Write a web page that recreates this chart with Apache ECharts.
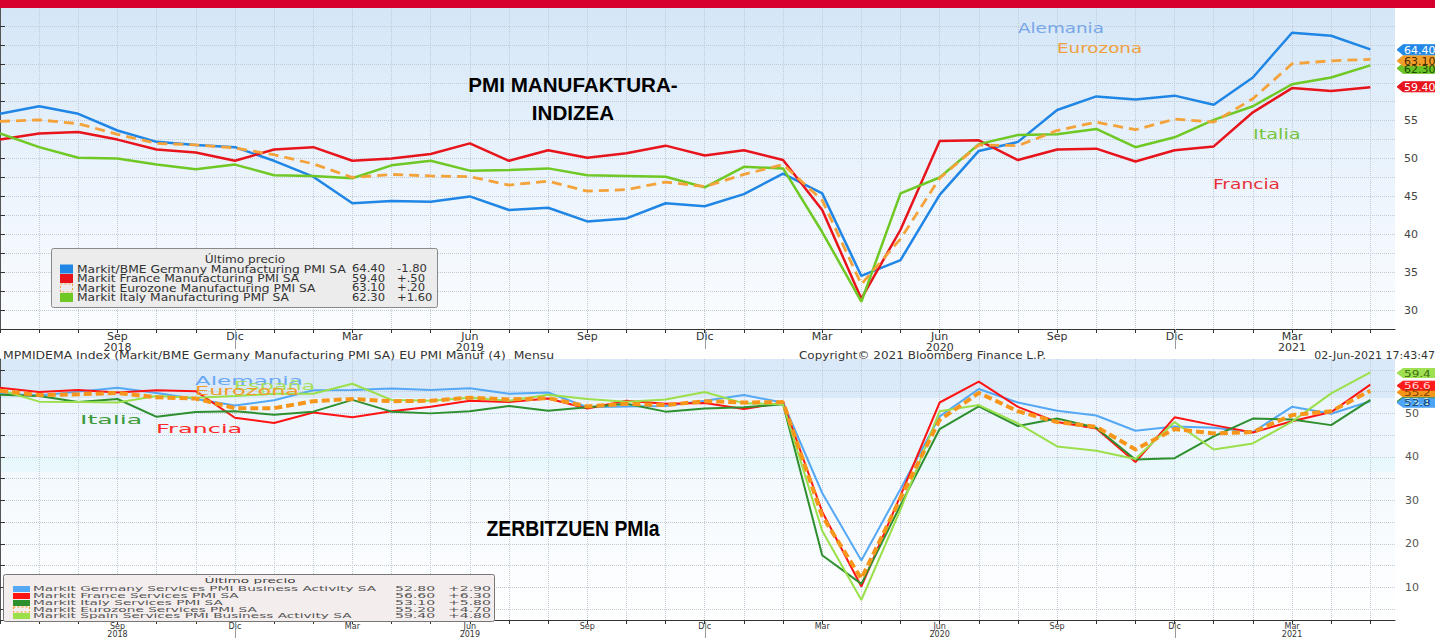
<!DOCTYPE html>
<html><head><meta charset="utf-8">
<script src="https://cdn.jsdelivr.net/npm/echarts@6/dist/echarts.min.js"></script>
<style>html,body{margin:0;padding:0;background:#fff;overflow:hidden}#c{width:1435px;height:638px}</style>
</head><body><div id="c"></div><script>
// ---------- data ----------
const months = ['Jun 2018','Jul 2018','Ago 2018','Sep 2018','Oct 2018','Nov 2018','Dic 2018',
 'Ene 2019','Feb 2019','Mar 2019','Abr 2019','May 2019','Jun 2019','Jul 2019','Ago 2019','Sep 2019','Oct 2019','Nov 2019','Dic 2019',
 'Ene 2020','Feb 2020','Mar 2020','Abr 2020','May 2020','Jun 2020','Jul 2020','Ago 2020','Sep 2020','Oct 2020','Nov 2020','Dic 2020',
 'Ene 2021','Feb 2021','Mar 2021','Abr 2021','May 2021'];
const xTickIdx  = [3,6,9,12,15,18,21,24,27,30,33];
const xTickText = ['Sep\n2018','Dic','Mar','Jun\n2019','Sep','Dic','Mar','Jun\n2020','Sep','Dic','Mar\n2021'];
const yearMarkIdx = [6,18,30];
const topYLabels = [30,35,40,45,50,55];
const botYLabels = [10,20,30,40,50];

// Manufacturing PMI
const deMfg = [55.9,56.9,55.9,53.7,52.2,51.8,51.5, 49.7,47.6,44.1,44.4,44.3,45.0,43.2,43.5,41.7,42.1,44.1,43.7, 45.3,48.0,45.4,34.5,36.6,45.2,51.0,52.2,56.4,58.2,57.8,58.3, 57.1,60.7,66.6,66.2,64.4];
const frMfg = [52.5,53.3,53.5,52.5,51.2,50.8,49.7, 51.2,51.5,49.7,50.0,50.6,52.0,49.7,51.1,50.1,50.7,51.7,50.4, 51.1,49.8,43.2,31.5,40.6,52.3,52.4,49.8,51.2,51.3,49.6,51.1, 51.6,56.1,59.3,58.9,59.4];
const euMfg = [54.9,55.1,54.6,53.2,52.0,51.8,51.4, 50.5,49.3,47.5,47.9,47.7,47.6,46.5,47.0,45.7,45.9,46.9,46.3, 47.9,49.2,44.5,33.4,39.4,47.4,51.8,51.7,53.7,54.8,53.8,55.2, 54.8,57.9,62.5,62.9,63.1];
const itMfg = [53.3,51.5,50.1,50.0,49.2,48.6,49.2, 47.8,47.7,47.4,49.1,49.7,48.4,48.5,48.7,47.8,47.7,47.6,46.2, 48.9,48.7,40.3,31.1,45.4,47.5,51.9,53.1,53.2,53.9,51.5,52.8, 55.1,56.9,59.8,60.7,62.3];
// Services PMI
const deSrv = [54.5,54.1,55.0,55.9,54.7,53.3,51.8, 53.0,55.3,55.4,55.7,55.4,55.8,54.5,54.8,51.4,51.6,51.7,52.9, 54.2,52.5,31.7,16.2,32.6,49.3,55.6,52.5,50.6,49.5,46.0,47.0, 46.7,45.7,51.5,49.9,52.8];
const frSrv = [55.9,54.9,55.4,54.8,55.3,55.1,49.0, 47.8,50.2,49.1,50.5,51.5,52.9,52.6,53.4,51.1,52.9,52.2,52.4, 51.0,52.5,27.4,10.2,31.1,52.5,57.3,51.5,48.0,46.5,38.8,49.1, 47.3,45.6,48.2,50.3,56.6];
const itSrv = [54.3,54.0,52.6,53.3,49.2,50.3,50.5, 49.7,50.4,53.1,50.4,50.0,50.5,51.7,50.6,51.4,52.2,50.4,51.1, 51.4,52.1,17.4,10.8,28.9,46.4,51.6,47.1,48.8,46.7,39.4,39.7, 44.7,48.8,48.6,47.3,53.1];
const euSrv = [55.2,54.2,54.4,54.7,53.7,53.4,51.2, 51.2,52.8,53.3,52.8,52.9,53.6,53.2,53.5,51.6,52.2,51.9,52.8, 52.5,52.6,26.4,12.0,30.5,48.5,54.7,50.5,48.0,46.9,41.7,46.4, 45.4,45.7,49.6,50.5,55.2];
const esSrv = [55.4,52.7,52.6,52.5,54.0,53.6,54.0, 54.5,54.5,56.8,53.1,52.9,53.6,52.9,54.3,53.3,52.7,53.2,54.9, 52.3,52.1,23.0,7.1,27.9,50.5,51.9,47.7,42.4,41.4,39.5,48.0, 41.7,43.1,48.1,54.6,59.4];

const mfgNames = ['Markit/BME Germany Manufacturing PMI SA','Markit France Manufacturing PMI SA','Markit Eurozone Manufacturing PMI SA','Markit Italy Manufacturing PMI  SA'];
const srvNames = ['Markit Germany Services PMI Business Activity SA','Markit France Services PMI SA','Markit Italy Services PMI SA','Markit Eurozone Services PMI SA','Markit Spain Services PMI Business Activity SA'];

// ---------- styles ----------
const FONT = 'DejaVu Sans';
const C = {
  deM:'#1f86e6', frM:'#e8141c', euM:'#f4a23a', itM:'#6fc824',
  deS:'#55a8f4', frS:'#ff1414', itS:'#2e8f2e', euS:'#f7961a', esS:'#9bdf4a'
};
const X_MAX = 35.63;
const range = (a,b,s)=>{const r=[];for(let v=a;v<=b+1e-9;v+=s)r.push(+v.toFixed(2));return r;};
const pairs = arr => arr.map((v,i)=>[i,v]);
function xLabel(v){
  const r = Math.round(v);
  if (Math.abs(v-r) > 1e-6) return '';
  const k = xTickIdx.indexOf(r);
  return k < 0 ? '' : xTickText[k];
}
function mkX(gi, fs, lh){
  return {type:'value', gridIndex:gi, min:0, max:X_MAX, interval:3,
    axisLine:{show:true, onZero:false, lineStyle:{color:'#333', width:1}},
    axisTick:{show:true, customValues:range(0,35,1), length:4, lineStyle:{color:'#333'}},
    axisLabel:{customValues:xTickIdx, formatter:xLabel, fontSize:fs, lineHeight:lh, color:'#333', margin:2, fontFamily:FONT, hideOverlap:false},
    splitLine:{show:true, lineStyle:{type:'dotted', color:'#c3ccd6'}}};
}
function line(name, data, gi, color, w, dash, z){
  return {type:'line', name, xAxisIndex:gi, yAxisIndex:gi, data:pairs(data), symbol:'none', showSymbol:false,
    silent:true, z, lineStyle:{color, width:w, type:dash||'solid'}, itemStyle:{color}};
}
const topBg = new echarts.graphic.LinearGradient(0,0,0,1,[
  {offset:0,color:'#d4e6f7'},{offset:0.5,color:'#eaf3fc'},{offset:1,color:'#fbfdff'}]);
const botBg = new echarts.graphic.LinearGradient(0,0,0,1,[
  {offset:0,color:'#d9e9f9'},{offset:0.148,color:'#dbeaf9'},
  {offset:0.149,color:'#ecf5fd'},{offset:0.376,color:'#eef6fd'},
  {offset:0.377,color:'#e7f8fb'},{offset:0.433,color:'#e9f8fc'},
  {offset:0.434,color:'#f3f9fe'},{offset:1,color:'#ffffff'}]);

const chart = echarts.init(document.getElementById('c'), null, {renderer:'svg'});
chart.setOption({
  animation:false,
  backgroundColor:'#ffffff',
  grid:[
    {left:0, right:40, top:7, height:322, show:true, borderWidth:0, backgroundColor:topBg},
    {left:0, right:40, top:359, height:263, show:true, borderWidth:0, backgroundColor:botBg}
  ],
  xAxis:[mkX(0,11,11), mkX(1,8,8)],
  yAxis:[
    {type:'value', gridIndex:0, position:'right', min:27.5, max:70, splitNumber:8,
     axisLine:{show:true, lineStyle:{color:'#555'}},
     axisTick:{show:true, customValues:range(30,70,2.5), length:5, lineStyle:{color:'#333'}},
     axisLabel:{customValues:topYLabels, fontSize:11, color:'#444', margin:9, fontFamily:FONT},
     splitLine:{show:true, lineStyle:{type:'dotted', color:'#c3ccd6'}}},
    {type:'value', gridIndex:1, position:'right', min:2.5, max:62.5, splitNumber:6,
     axisLine:{show:true, lineStyle:{color:'#555'}},
     axisTick:{show:true, customValues:range(5,60,5), length:5, lineStyle:{color:'#333'}},
     axisLabel:{customValues:botYLabels, fontSize:11, color:'#555', margin:10, fontFamily:FONT},
     splitLine:{show:true, lineStyle:{type:'dotted', color:'#c3ccd6'}}}
  ],
  series:[
    line(mfgNames[0], deMfg, 0, C.deM, 2.5, null, 3),
    line(mfgNames[1], frMfg, 0, C.frM, 2.5, null, 4),
    line(mfgNames[3], itMfg, 0, C.itM, 2.5, null, 5),
    line(mfgNames[2], euMfg, 0, C.euM, 2.8, [10,6], 6),
    line(srvNames[0], deSrv, 1, C.deS, 2, null, 3),
    line(srvNames[1], frSrv, 1, C.frS, 2, null, 4),
    line(srvNames[2], itSrv, 1, C.itS, 2, null, 5),
    line(srvNames[4], esSrv, 1, C.esS, 2, null, 6),
    line(srvNames[3], euSrv, 1, C.euS, 4, [8,4], 7)
  ]
});

// ---------- overlays (text, legends, flags) ----------
function fmtChg(d){ const a=Math.abs(d); let s=a.toFixed(2); if(a<1) s=s.slice(1); return (d<0?'-':'+')+s; }
function txt(t, x, y, o){
  o = o||{};
  return {type:'text', x, y, scaleX:o.sx||1, scaleY:o.sy||1, z:100, silent:true,
    style:{text:t, x:0, y:0, fill:o.color||'#333', fontSize:o.fs||11, fontFamily:o.ff||FONT,
      fontWeight:o.fw||'normal', textAlign:o.align||'left', textVerticalAlign:'middle'}};
}
const G = [];
// red header bar
G.push({type:'rect', z:100, silent:true, shape:{x:0,y:0,width:1435,height:8}, style:{fill:'#d5002c'}});
// titles
G.push(txt('PMI MANUFAKTURA-', 573, 85, {fs:20, fw:'bold', ff:'Liberation Sans', color:'#000', align:'center', sx:1.03}));
G.push(txt('INDIZEA', 573, 113, {fs:20, fw:'bold', ff:'Liberation Sans', color:'#000', align:'center', sx:1.03}));
G.push(txt('ZERBITZUEN PMIa', 573, 528, {fs:22, fw:'bold', ff:'Liberation Sans', color:'#000', align:'center', sx:0.88}));
// top annotations
G.push(txt('Alemania', 1018, 28, {fs:14, color:'#78a6e8', sx:1.31}));
G.push(txt('Eurozona', 1057, 48, {fs:14, color:'#f0a040', sx:1.31}));
G.push(txt('Italia', 1253, 134, {fs:14, color:'#74c43e', sx:1.38}));
G.push(txt('Francia', 1213, 184, {fs:14, color:'#e8303a', sx:1.33}));
// bottom annotations (wide, short lettering)
G.push(txt('Alemania', 195, 381, {fs:12.3, color:'#6aa9f2', sx:1.87}));
G.push(txt('España', 234, 386, {fs:12.3, color:'#a6e05a', sx:1.81}));
G.push(txt('Eurozona', 195, 391, {fs:12.3, color:'#f39a2a', sx:1.82}));
G.push(txt('Italia', 80, 420, {fs:12.3, color:'#3d9a3d', sx:2.05}));
G.push(txt('Francia', 156, 428, {fs:12.3, color:'#ff2a2a', sx:1.95}));
// footer
G.push(txt('MPMIDEMA Index (Markit/BME Germany Manufacturing PMI SA) EU PMI Manuf (4)  Mensu', 3, 355, {fs:11, sx:1.13}));
G.push(txt('Copyright\u00a9 2021 Bloomberg Finance L.P.', 799, 355, {fs:11, sx:1.09}));
G.push(txt('02-Jun-2021 17:43:47', 1435, 355, {fs:11, align:'right'}));

// top legend
const mfgSeries = [deMfg, frMfg, euMfg, itMfg];
const mfgCols = [C.deM, C.frM, C.euM, C.itM];
G.push({type:'rect', z:99, silent:true, shape:{x:51.5,y:248.5,width:386,height:59,r:2}, style:{fill:'#ececec', stroke:'#8a8a8a', lineWidth:1}});
G.push(txt('\u00daltimo precio', 245, 259, {fs:11, align:'center', sx:1.1}));
[269,278.5,288,297.5].forEach((y,i)=>{
  const d = mfgSeries[i], last = d[d.length-1], prev = d[d.length-2];
  if (i===2) G.push({type:'rect', z:100, silent:true, shape:{x:60.5,y:y-4,width:12,height:8}, style:{fill:'none', stroke:mfgCols[i], lineWidth:1, lineDash:[2,2]}});
  else G.push({type:'rect', z:100, silent:true, shape:{x:60,y:y-4.5,width:13,height:9}, style:{fill:mfgCols[i]}});
  G.push(txt(mfgNames[i], 77, y, {fs:11, sx:1.12}));
  G.push(txt(last.toFixed(2), 352, y, {fs:11, sx:1.05}));
  G.push(txt(fmtChg(last-prev), 397, y, {fs:11, sx:1.05}));
});
// bottom legend
const srvSeries = [deSrv, frSrv, itSrv, euSrv, esSrv];
const srvCols = [C.deS, C.frS, C.itS, C.euS, C.esS];
G.push({type:'rect', z:99, silent:true, shape:{x:3.5,y:574.5,width:491,height:47,r:2}, style:{fill:'#f3eded', stroke:'#777', lineWidth:1}});
G.push(txt('\u00daltimo precio', 250, 581, {fs:7.2, align:'center', sx:1.9, color:'#444'}));
[589,596,603,609.5,616].forEach((y,i)=>{
  const d = srvSeries[i], last = d[d.length-1], prev = d[d.length-2];
  if (i===3) G.push({type:'rect', z:100, silent:true, shape:{x:13.5,y:y-2.5,width:16,height:5}, style:{fill:'none', stroke:srvCols[i], lineWidth:1, lineDash:[2,2]}});
  else G.push({type:'rect', z:100, silent:true, shape:{x:13,y:y-3,width:17,height:6}, style:{fill:srvCols[i]}});
  G.push(txt(srvNames[i], 33, y, {fs:7.2, sx:1.9, color:'#555'}));
  G.push(txt(last.toFixed(2), 395, y, {fs:7.2, sx:1.95, color:'#555'}));
  G.push(txt(fmtChg(last-prev), 448, y, {fs:7.2, sx:1.95, color:'#555'}));
});

// year separators under "Dic"
yearMarkIdx.forEach(i=>{
  const x = Math.round(chart.convertToPixel({xAxisIndex:0}, i)) + 0.5;
  G.push({type:'line', z:100, silent:true, shape:{x1:x,y1:329,x2:x,y2:349}, style:{stroke:'#999', lineWidth:1}});
  G.push({type:'line', z:100, silent:true, shape:{x1:x,y1:622,x2:x,y2:638}, style:{stroke:'#999', lineWidth:1}});
});

// value flags on the right axes
function flag(yAxisIndex, value, nudge, fill, tcol, h, fs, sx){
  const y = chart.convertToPixel({yAxisIndex}, value) + nudge;
  const x0 = 1397, hh = h/2;
  G.push({type:'polygon', z:101, silent:true, shape:{points:[[x0,y],[x0+6,y-hh],[1440,y-hh],[1440,y+hh],[x0+6,y+hh]]}, style:{fill, stroke:fill}});
  const t = txt(value.toFixed(yAxisIndex===0?2:1), 1404, y+0.5, {fs, color:tcol, sx});
  t.z = 102; G.push(t);
}
flag(0, itMfg[35], 3, '#6cc427', '#1f4a00', 10, 10, 1.1);
flag(0, euMfg[35], 1.5, '#f29e2a', '#4a2a00', 10, 10, 1.1);
flag(0, deMfg[35], 0.3, '#2389e8', '#ffffff', 10, 10, 1.1);
flag(0, frMfg[35], -0.5, '#e8141c', '#ffffff', 10, 10, 1.1);
flag(1, itSrv[35], 1.5, '#2e8f2e', '#d8f0d8', 9, 8.4, 1.43);
flag(1, euSrv[35], 1.5, '#f5961a', '#7a4000', 9, 8.4, 1.43);
flag(1, frSrv[35], 1, '#ff1a1a', '#ffd6d6', 9, 8.4, 1.43);
flag(1, deSrv[35], 1.5, '#4da3f5', '#0c3e78', 9, 8.4, 1.43);
flag(1, esSrv[35], 0.5, '#9fe052', '#3a6b10', 9, 8.4, 1.43);

chart.setOption({graphic:{elements:G}});
</script></body></html>
